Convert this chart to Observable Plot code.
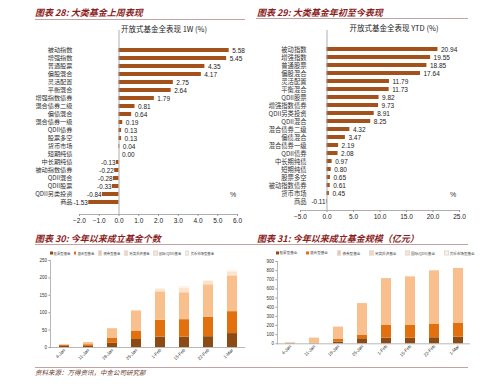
<!DOCTYPE html>
<html><head><meta charset="utf-8">
<script src="https://cdn.jsdelivr.net/npm/d3@7"></script>
<script src="https://cdn.jsdelivr.net/npm/@observablehq/plot@0.6"></script>
<style>
body{margin:0;background:#fff;}
#root{position:relative;width:499px;height:384px;overflow:hidden;background:#fff;font-family:"Liberation Sans",Arial,sans-serif;}
.abs{position:absolute;white-space:nowrap;line-height:1;transform:translateY(-50%);}
.title{font-family:"Noto Sans CJK SC";font-style:italic;font-weight:bold;font-size:9px;color:#8B1E1E;}
.sub{font-family:"Noto Sans CJK SC";font-size:7.5px;color:#222;transform:translate(-50%,-50%);}
.hr{position:absolute;height:0;border-top:1px solid #c4a2a2;}
.leg{position:absolute;display:flex;align-items:center;white-space:nowrap;font-family:"Noto Sans CJK SC";color:#444;line-height:1;transform:translateY(-50%);}
.leg span.sw{display:inline-block;width:2.5px;height:2.5px;margin-right:1px;}
.foot{font-family:"Noto Sans CJK SC";font-style:italic;font-size:6.5px;color:#6b3a2e;}
</style></head><body><div id="root"></div>
<script>
// ---- Data: chart 28 (1W) ----
const cat28 = ["被动指数","增强指数","普通股票","偏股混合","灵活配置","平衡混合","增强指数债券","混合债券二级","偏债混合","混合债券一级","QDII债券","股票多空","货币市场","短期纯债","中长期纯债","被动指数债券","QDII混合","QDII股票","QDII另类投资","商品"];
const val28 = [5.58,5.45,4.35,4.17,2.75,2.64,1.79,0.81,0.64,0.19,0.13,0.13,0.04,0.00,-0.13,-0.22,-0.28,-0.33,-0.84,-1.53];
// ---- Data: chart 29 (YTD) ----
const cat29 = ["被动指数","增强指数","普通股票","偏股混合","灵活配置","平衡混合","QDII股票","增强指数债券","QDII另类投资","QDII混合","混合债券二级","偏债混合","混合债券一级","QDII债券","中长期纯债","短期纯债","股票多空","被动指数债券","货币市场","商品"];
const val29 = [20.94,19.55,18.85,17.64,11.79,11.73,9.82,9.73,8.91,8.25,4.32,3.47,2.19,2.08,0.97,0.80,0.65,0.61,0.45,-0.11];
const ticks28 = [-2,-1,0,1,2,3,4,5,6];
const ticks29 = [-5,0,5,10,15,20,25];
// ---- Data: charts 30/31 ----
const dates = ["4-Jan","11-Jan","18-Jan","25-Jan","1-Feb","15-Feb","22-Feb","1-Mar"];
const seriesNames = ["股票型基金","混合型基金","债券型基金","另类投资基金","国际(QDII)基金","货币市场型基金"];
const seriesColors = ["#8C4A14","#E2700F","#F9BF8C","#FBD4B0","#FDE3CC","#FEF0E4"];
// 成立基金个数
const cnt_stock = [3,3,12,23,30,30,31,40];
const cnt_mixed = [3,5,15,23,48,50,56,63];
const cnt_bond  = [2,6,27,59,81,77,91,102];
const cnt_alt   = [0,0,0,0,2,3,3,3];
const cnt_qdii  = [0,0,0,0,5,10,9,9];
const cnt_money = [0,0,0,0,3,5,3,4];
// 成立基金规模（亿元）
const amt_stock = [2,2,20,55,62,62,66,73];
const amt_mixed = [3,5,27,36,139,139,146,154];
const amt_bond  = [5,55,136,349,512,531,586,597];
const amt_alt   = [0,0,0,0,0,0,0,0];
const amt_qdii  = [0,0,0,0,0,0,0,0];
const amt_money = [0,0,0,0,0,0,0,0];
const yTicks30 = [0,50,100,150,200,250];
const yTicks31 = [0,100,200,300,400,500,600,700,800,900];

const root = document.getElementById("root");
function add(el, left, top){ el.style.position="absolute"; el.style.left=left+"px"; el.style.top=top+"px"; root.appendChild(el); return el; }
function html(cls, text, left, top, extra){ const d=document.createElement("div"); d.className="abs "+cls; d.textContent=text; if(extra) Object.assign(d.style, extra); return add(d,left,top); }
function hr(left, top, width){ const d=document.createElement("div"); d.className="hr"; d.style.width=width+"px"; return add(d,left,top); }

const BAR = "#A3521C";
const AX = "#9a9a9a";

function hbar(cats, vals, ticks, o){
  const data = cats.map((c,i)=>({cat:c, v:vals[i]}));
  const svg = Plot.plot({
    width:o.width, height:o.height, marginLeft:o.ml, marginRight:o.mr, marginTop:30, marginBottom:o.mb,
    style:{fontFamily:"Liberation Sans, Arial, sans-serif", fontSize:"6.5px", color:"#222", background:"transparent", overflow:"visible"},
    x:{domain:o.xdomain, ticks:ticks, tickFormat:d3.format(".1f"), label:null},
    y:{domain:cats, range:o.yrange, paddingInner:0.55, paddingOuter:0, label:null, axis:null},
    marks:[
      Plot.barX(data,{x:"v", y:"cat", fill:BAR}),
      Plot.ruleX([0],{stroke:AX, strokeWidth:0.8}),
      Plot.frame({anchor:"bottom", stroke:AX, strokeWidth:0.8}),
      Plot.axisX({ticks:ticks, tickFormat:d3.format(".1f"), tickSize:2, tickPadding:2, stroke:AX, fontSize:6.5, label:null}),
      Plot.text(data,{y:"cat", text:"cat", frameAnchor:"left", dx:o.labelDx, textAnchor:"end", fontSize:o.catFont, fontFamily:"Noto Sans CJK SC", fill:"#333", ariaLabel:"cat-label"}),
      Plot.text(data.filter(d=>d.v>=0),{x:"v", y:"cat", text:d=>d.v.toFixed(2), dx:3, textAnchor:"start", fontSize:6.5, fill:"#222"}),
      Plot.text(data.filter(d=>d.v<0),{x:"v", y:"cat", text:d=>d.v.toFixed(2), dx:-1, textAnchor:"end", fontSize:6.3, fill:"#222"})
    ]
  });
  svg.querySelectorAll('g[aria-label="cat-label"] text').forEach(t=>t.style.letterSpacing=o.ls+"px");
  return svg;
}

// ---- Chart 28 ----
html("title","图表 28: 大类基金上周表现",35,12);
hr(35,19,210);
html("sub","开放式基金全表现 1W (%)",164,29);
add(hbar(cat28,val28,ticks28,{width:250,height:225,ml:79,mr:13,mb:11,xdomain:[-2,6],yrange:[41,210],labelDx:-7,catFont:6.2,ls:0}),0,0);
html("","%",230,194,{fontSize:"7px",color:"#333"});

// ---- Chart 29 ----
html("title","图表 29: 大类基金年初至今表现",257,12);
hr(256,18,212);
html("sub","开放式基金全表现 YTD (%)",394,28);
add(hbar(cat29,val29,ticks29,{width:249,height:225,ml:50,mr:40,mb:15,xdomain:[-5,25],yrange:[40.8,208],labelDx:6,catFont:6.3,ls:1.3}),250,0);
html("","%",450,194,{fontSize:"7px",color:"#333"});

// ---- stacked charts ----
function stacked(series, yTicks, o){
  const rows = [];
  series.forEach((arr,si)=>arr.forEach((v,i)=>rows.push({date:dates[i], s:seriesNames[si], v})));
  return Plot.plot({
    width:o.width, height:o.height, marginLeft:o.ml, marginRight:o.mr, marginTop:o.mt, marginBottom:o.mb,
    style:{fontFamily:"Liberation Sans, Arial, sans-serif", fontSize:"4.5px", color:"#333", background:"transparent", overflow:"visible"},
    x:{domain:dates, paddingInner:0.6, paddingOuter:o.po, label:null},
    y:{domain:[0, yTicks[yTicks.length-1]], label:null},
    color:{domain:seriesNames, range:seriesColors},
    marks:[
      Plot.barY(rows,{x:"date", y:"v", fill:"s", order:seriesNames}),
      Plot.frame({anchor:"left", stroke:AX, strokeWidth:0.7}),
      Plot.ruleY([0],{stroke:AX, strokeWidth:0.7}),
      Plot.axisY({ticks:yTicks, tickSize:1.5, tickPadding:2, stroke:AX, fontSize:4.5, label:null}),
      Plot.axisX({tickSize:0, tickPadding:2, tickRotate:-45, fontSize:4.5, label:null})
    ]
  });
}
function legend(left, top, font, gap){
  const d=document.createElement("div"); d.className="leg"; d.style.fontSize=font+"px"; d.style.gap=gap+"px";
  seriesNames.forEach((n,i)=>{ const it=document.createElement("span"); const sw=document.createElement("span"); sw.className="sw"; sw.style.background=seriesColors[i]; if(i>=2) sw.style.border="0.3px solid #ddd"; it.appendChild(sw); it.appendChild(document.createTextNode(n)); d.appendChild(it); });
  return add(d,left,top);
}

// ---- Chart 30 ----
html("title","图表 30: 今年以来成立基金个数",35,238);
hr(35,244,215);
legend(50,253,3.4,3.5);
add(stacked([cnt_stock,cnt_mixed,cnt_bond,cnt_alt,cnt_qdii,cnt_money],yTicks30,{width:250,height:112,ml:50,mr:5,mt:5,mb:20,po:0.27}),0,255);
hr(35,367,215);
html("foot","资料来源：万得资讯，中金公司研究部",35,372);

// ---- Chart 31 ----
html("title","图表 31: 今年以来成立基金规模（亿元）",257,238);
hr(250,244,218);
legend(276,253,3.6,9);
add(stacked([amt_stock,amt_mixed,amt_bond,amt_alt,amt_qdii,amt_money],yTicks31,{width:249,height:112,ml:27,mr:29,mt:6,mb:23.7,po:0.3}),250,255);
hr(250,367,218);
</script></body></html>
